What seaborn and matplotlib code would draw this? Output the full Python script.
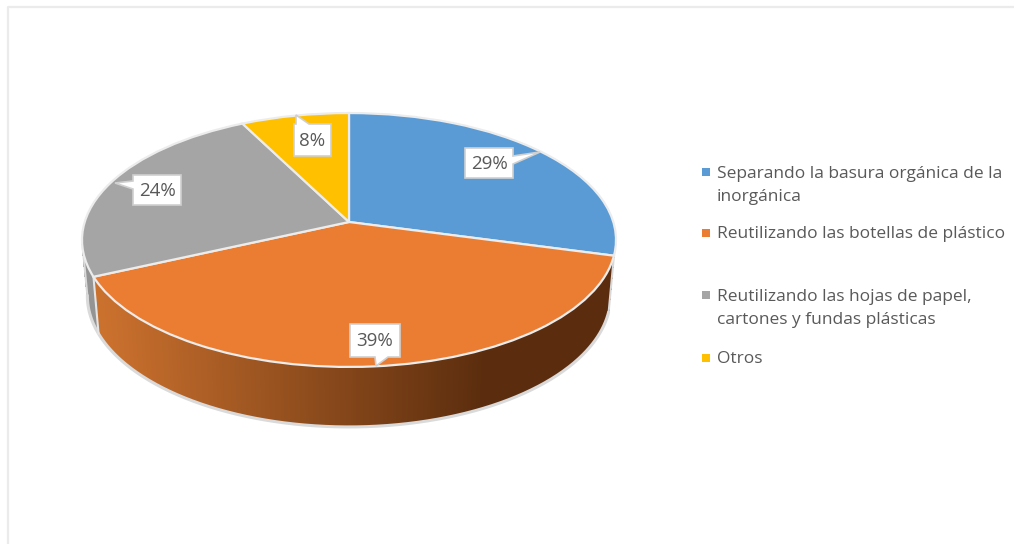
import numpy as np
import matplotlib
matplotlib.use("Agg")
import matplotlib.pyplot as plt
import seaborn as sns
from matplotlib.collections import PolyCollection
from matplotlib.patches import Polygon
from matplotlib.transforms import Transform

# ---- data
categories = [
    "Separando la basura orgánica de la\ninorgánica",
    "Reutilizando las botellas de plástico",
    "Reutilizando las hojas de papel,\ncartones y fundas plásticas",
    "Otros",
]
values = [29.2, 39.0, 24.3, 7.5]
colors = ["#5B9BD5", "#EB7D33", "#A5A5A5", "#FFC000"]

# ---- layout, in figure pixels
CX, CY = 349.0, 222.0
A, B, K = 264.3, 124.4, 0.1417
SHRINK = 0.98
legend_y = [185.5, 234, 308.5, 359]
legend_marker_x, legend_text_x = 706, 717
callouts = [  # box x0, y0, x1, y1, tip x, tip y, base side
    (465, 148, 513, 178, 540, 152, "r"),
    (350, 324, 400, 357, 376, 366, "b"),
    (133, 175, 181, 205, 115, 183, "l"),
    (294, 124, 331, 156, 296, 115, "t"),
]

sns.set_theme(style="white")
plt.rcParams["font.family"] = ["Open Sans", "DejaVu Sans"]
TEXT = "#595959"


class Tilt(Transform):
    """Perspective view of the unit-circle pie."""
    input_dims = output_dims = 2
    has_inverse = False
    is_affine = False

    def transform_non_affine(self, xy):
        xy = np.asarray(xy, float)
        w = 1 + K * xy[:, 1]
        return np.column_stack((CX + A * xy[:, 0] / w, CY - B * xy[:, 1] / w))


def project(theta):
    t = np.radians(np.atleast_1d(theta))
    return Tilt().transform_non_affine(np.column_stack((np.cos(t), np.sin(t))))


def drop(p):
    """Matching point on the lower rim of the disc."""
    return np.column_stack((CX + (p[:, 0] - CX) * SHRINK,
                            p[:, 1] + 57 + (p[:, 1] - 276) * 3 / 91))


fig = plt.figure(figsize=(10.14, 5.44), dpi=100)
ax = fig.add_axes([0, 0, 1, 1])
wedges, _ = ax.pie(values, colors=colors, startangle=90, counterclock=False,
                   wedgeprops=dict(edgecolor="#ECECEC", linewidth=1.6, zorder=5))
ax.set_aspect("auto")
ax.set_xlim(0, 1014)
ax.set_ylim(544, 0)
ax.set_axis_off()

tilt = Tilt() + ax.transData
for w in wedges:
    w.set_transform(tilt)

# ---- side wall: only the orange and grey slices show one
ramp = sns.blend_palette(["#CB712E", "#5B2D0E"], 200)
LEFT_THETA = -172.0  # where the upper rim turns back on the left
ORANGE, GREY = wedges[1], wedges[2]

th = np.linspace(ORANGE.theta1, ORANGE.theta2, 500)
top, low = project(th), drop(project(th))
quads, fc = [], []
for j in range(len(th) - 1):
    quads.append([top[j], top[j + 1], low[j + 1], low[j]])
    f = np.clip(((top[j, 0] + top[j + 1, 0]) / 2 - 100) / 385, 0, 1)
    fc.append(ramp[int(f * 199)])
ax.add_collection(PolyCollection(quads, facecolors=fc, edgecolors=fc, linewidths=0.3,
                                 antialiaseds=False, zorder=2))

th = np.linspace(LEFT_THETA, GREY.theta2, 60)
top, low = project(th), drop(project(th))
quads = [[top[j], top[j + 1], low[j + 1], low[j]] for j in range(len(th) - 1)]
ax.add_collection(PolyCollection(quads, facecolors="#949494", edgecolors="#949494",
                                 linewidths=0.3, antialiaseds=False, zorder=2))

# rim of the lower disc, silhouettes and the seam between the walls
rim_th = np.linspace(LEFT_THETA, ORANGE.theta2, 400)
rim = drop(project(rim_th))
ax.plot(rim[:, 0], rim[:, 1], color="#DADADA", lw=2.2, zorder=3)
for t, col in [(LEFT_THETA, "#D9D9D9"), (ORANGE.theta2, "#D9D9D9"), (ORANGE.theta1, "#E4E4E4")]:
    a = project(t)
    b = drop(a)
    ax.plot([a[0, 0], b[0, 0]], [a[0, 1], b[0, 1]], color=col, lw=1.5, zorder=3)

# ---- data labels with callouts
for v, (x0, y0, x1, y1, tx, ty, side) in zip(values, callouts):
    xm, ym = (x0 + x1) / 2, (y0 + y1) / 2
    if side == "r":
        pts = [(x0, y0), (x1, y0), (x1, y0 + 8), (tx, ty), (x1, y0 + 16), (x1, y1), (x0, y1)]
    elif side == "l":
        pts = [(x0, y0), (x1, y0), (x1, y1), (x0, y1), (x0, y0 + 14), (tx, ty), (x0, y0 + 6)]
    elif side == "b":
        pts = [(x0, y0), (x1, y0), (x1, y1), (x0 + 38, y1), (tx, ty), (x0 + 25, y1), (x0, y1)]
    else:
        pts = [(x0, y0), (x0 + 2, y0), (tx, ty), (x0 + 15, y0), (x1, y0), (x1, y1), (x0, y1)]
    ax.add_patch(Polygon(pts, closed=True, facecolor="white", edgecolor="#D0D0D0",
                         linewidth=1.2, zorder=6))
    ax.text(xm, ym + 1, f"{v:.0f}%", ha="center", va="center", color=TEXT,
            fontsize=13.5, zorder=7)

# ---- legend
for label, col, y in zip(categories, colors, legend_y):
    ax.scatter([legend_marker_x], [y - 1 if "\n" not in label else y - 14], marker="s",
               s=26, color=col, linewidths=0, zorder=6)
    ax.text(legend_text_x, y, label, ha="left", va="center", color=TEXT, fontsize=12.5,
            linespacing=1.62)

# ---- chart frame
ax.plot([7.5, 7.5, 1014], [544, 6.5, 6.5], color="#EBEBEB", lw=1.6, zorder=1)

fig.savefig("out.png", dpi=100)
